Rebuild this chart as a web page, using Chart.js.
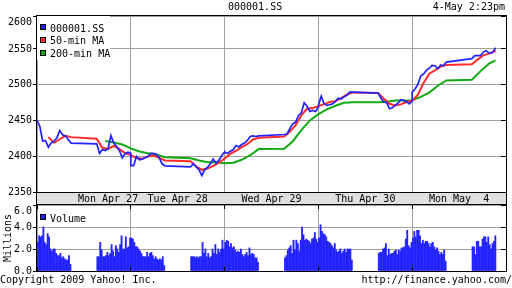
<!DOCTYPE html>
<html>
<head>
<meta charset="utf-8">
<title>000001.SS</title>
<script src="https://cdn.jsdelivr.net/npm/chart.js@4.4.1/dist/chart.umd.min.js"></script>
<style>
  html, body { margin: 0; padding: 0; background: #fff; }
  body { position: relative; width: 512px; height: 288px; overflow: hidden;
         font-family: 'DejaVu Sans Mono', monospace; font-size: 10px; color: #000; }
  canvas { position: absolute; left: 0; }
  #price-chart { top: 0; }
  #volume-chart { top: 192px; }
  .lbl { position: absolute; white-space: pre; line-height: 12px; }
  .key { position: absolute; width: 4px; height: 4px; border: 1px solid #000; }
  #legend-box { position: absolute; left: 37px; top: 16px; width: 73px; height: 44px; background: #fff; }
</style>
</head>
<body>
<canvas id="price-chart" width="512" height="206"></canvas>
<canvas id="volume-chart" width="512" height="86"></canvas>

<div class="lbl" style="left:228px; top:1px">000001.SS</div>
<div class="lbl" style="right:7px; top:1px">4-May 2:23pm</div>

<div id="legend-box"></div>
<div class="key" style="left:40px; top:24px; background:#2222ff"></div>
<div class="lbl" style="left:50px; top:23px">000001.SS</div>
<div class="key" style="left:40px; top:37px; background:#ff2b2b"></div>
<div class="lbl" style="left:50px; top:35px">50-min MA</div>
<div class="key" style="left:40px; top:50px; background:#11aa11"></div>
<div class="lbl" style="left:50px; top:48px">200-min MA</div>

<div class="key" style="left:40px; top:214px; background:#2222ff"></div>
<div class="lbl" style="left:50px; top:213px">Volume</div>

<div class="lbl" style="left:0; top:274px">Copyright 2009 Yahoo! Inc.</div>
<div class="lbl" style="right:0; top:274px">http://finance.yahoo.com/</div>

<script>
const days = ['Mon Apr 27', 'Tue Apr 28', 'Wed Apr 29', 'Thu Apr 30', 'Mon May  4'];
const priceTicks = [2350, 2400, 2450, 2500, 2550, 2600];
const volumeTicks = [0, 2, 4, 6];

// clock times inside one trading day (9:30-11:30, 13:00-15:00)
const times10 = ['09:30','09:40','09:50','10:00','10:10','10:20','10:30','10:40','10:50','11:00','11:10','11:20','11:30',
                 '13:00','13:10','13:20','13:30','13:40','13:50','14:00','14:10','14:20','14:30','14:40','14:50','15:00'];
const times20 = ['09:30','09:50','10:10','10:30','10:50','11:10','11:30',
                 '13:00','13:20','13:40','14:00','14:20','14:40','15:00'];
const times30 = ['09:30','10:00','10:30','11:00','11:30','13:00','13:30','14:00','14:30','15:00'];
const lastTime = '14:23';

// 000001.SS, one row per day (May 4 stops at 14:20)
const price = [
  [2450, 2441.6, 2421, 2422, 2412.7, 2418.8, 2421, 2425.7, 2436, 2430, 2428.5, 2423, 2418.3,
   2417.3, 2404, 2409, 2408, 2410.3, 2429, 2418.3, 2413.6, 2408, 2397.8, 2404, 2405.7, 2404],
  [2387, 2387, 2399.6, 2395, 2396, 2397.8, 2399.6, 2404, 2404, 2402.4, 2397.8, 2389.4, 2386.6,
   2385, 2389.4, 2385, 2381, 2373, 2381, 2384.7, 2389.4, 2396, 2390.3, 2394.5, 2401, 2405.7],
  [2405, 2404, 2407, 2409, 2415, 2413, 2416.4, 2418.3, 2422, 2427.6, 2428.5, 2427.6, 2428.5,
   2430.4, 2431.4, 2439, 2445.3, 2447.7, 2457, 2460.7, 2474.7, 2470, 2462.6, 2464, 2462.6, 2468.7],
  [2471, 2484, 2473.3, 2471, 2472, 2473.3, 2476.6, 2481, 2480, 2483, 2485, 2489.7, 2489.7,
   2488.3, 2481, 2475.7, 2475, 2466.3, 2467.8, 2471, 2474.3, 2479, 2478, 2476.2, 2473.3, 2477],
  [2489.7, 2494, 2500.4, 2512, 2515, 2520, 2523, 2527, 2526.5, 2522.3, 2527.5, 2526.5, 2531.6,
   2536.4, 2540.5, 2540.5, 2540.5, 2545.6, 2547.5, 2544.3, 2544.3, 2549]
];
const priceLast = 2551.7;

// 50-min moving average, every 20 minutes
const ma50 = [
  [null, null, 2426.7, 2418.8, 2423.7, 2428.5, 2426.7, 2424.4, 2411.8, 2410.3, 2414.6, 2410, 2404, 2402],
  [2401, 2397.8, 2396.4, 2399.6, 2401, 2397.8, 2394, 2393, 2386, 2381, 2382.8, 2386.6, 2391, 2396.8],
  [2396.8, 2403.3, 2407.5, 2412.7, 2416.8, 2423.4, 2425.7, 2427.6, 2434.6, 2443.5, 2457, 2466.3, 2467.3, 2470],
  [2470, 2472.8, 2475.7, 2477, 2481.2, 2486, 2489.2, 2488.3, 2480.3, 2473.3, 2471, 2472.5, 2475.7, 2477.5],
  [2477.5, 2486, 2502.3, 2515.4, 2520, 2525.2, 2527.5, 2528.4, 2535, 2541, 2543.4, 2546.6]
];
const ma50Last = 2548;

// 200-min moving average, every 30 minutes
const ma200 = [
  [null, null, null, null, null, null, 2421.3, 2419.2, 2416.4, 2411],
  [2411, 2406.6, 2404.3, 2402.4, 2398.7, 2397.2, 2394, 2391.7, 2391.7, 2390.3],
  [2390.3, 2390.8, 2395, 2401.4, 2410, 2410.3, 2421, 2436.4, 2450, 2458.8],
  [2458.8, 2465.4, 2470.5, 2474.7, 2475.6, 2475.6, 2476, 2478, 2478, 2478.4],
  [2478.4, 2483, 2489, 2498.5, 2506, 2507, 2518.6, 2529.4]
];
const ma200Last = 2534;

// volume in millions, 5-minute bars
const volMorning = [
  [2.6, 3.2, 3.1, 3.2, 4.0, 2.6, 2.4, 3.4, 3.1, 2.0, 1.8, 2.0, 2.0, 1.6, 1.4, 1.4, 1.6, 1.2, 1.3, 1.1, 1.0, 1.0, 1.4, 0.6],
  [3.0, 2.9, 2.6, 2.2, 2.2, 2.0, 1.8, 1.6, 1.3, 1.3, 1.3, 1.7, 1.3, 1.6, 1.7, 1.4, 1.1, 1.3, 1.1, 1.0, 1.1, 1.0, 1.3, 0.5],
  [2.6, 2.8, 2.7, 2.2, 2.5, 2.1, 2.2, 1.9, 1.7, 1.8, 1.7, 2.0, 1.5, 1.3, 1.5, 1.7, 1.4, 2.1, 1.5, 1.6, 1.5, 1.2, 1.2, 0.8],
  [3.0, 4.2, 3.6, 3.4, 3.3, 3.1, 2.7, 2.6, 2.5, 2.3, 2.1, 2.5, 1.9, 1.7, 1.8, 2.0, 1.6, 1.8, 2.0, 1.7, 2.0, 2.0, 2.0, 1.0],
  [3.0, 3.6, 3.1, 3.7, 3.7, 3.2, 2.5, 2.8, 2.5, 2.7, 2.7, 2.5, 2.2, 2.5, 2.6, 2.2, 1.9, 2.1, 1.8, 1.5, 1.7, 1.5, 1.9, 0.9]
];
const volAfternoon = [
  [1.3, 1.3, 2.6, 1.9, 1.3, 1.3, 1.4, 1.7, 1.4, 1.6, 2.4, 1.8, 1.3, 2.3, 2.0, 1.7, 2.4, 3.2, 2.0, 2.0, 3.1, 2.1, 2.2, 3.0],
  [1.3, 1.3, 1.3, 1.2, 1.3, 1.2, 1.3, 1.3, 2.6, 1.6, 2.0, 1.3, 1.6, 1.2, 1.3, 2.0, 1.6, 2.4, 1.5, 2.0, 1.7, 2.0, 2.8, 2.0],
  [1.2, 1.4, 1.9, 2.1, 2.3, 1.6, 2.8, 1.9, 2.8, 2.5, 1.8, 2.8, 4.0, 3.3, 2.8, 2.9, 2.8, 2.7, 2.5, 2.9, 3.0, 3.5, 2.9, 2.6],
  [1.6, 1.7, 1.7, 2.0, 2.1, 2.5, 1.4, 2.0, 1.5, 1.6, 1.6, 1.8, 1.9, 1.5, 1.9, 1.8, 2.1, 2.1, 2.2, 2.9, 3.7, 2.3, 2.1, 2.6],
  [2.2, 2.2, 1.5, 2.7, 2.7, 2.2, 2.2, 2.9, 3.1, 3.1, 2.6, 3.1, 2.4, 2.0, 2.5, 2.7, 3.2]
];

const BLUE = '#2222ff', RED = '#ff2b2b', GREEN = '#11aa11';
const FONT = { family: "'DejaVu Sans Mono', monospace", size: 10 };
const DAY = 330; // minutes from 9:30 to 15:00, lunch included

// minutes since the first open, each day drawn 9:30-15:00
function minuteOf(day, hhmm) {
  const [h, m] = hhmm.split(':').map(Number);
  return day * DAY + h * 60 + m - 570;
}

function series(rows, times, last) {
  const pts = [];
  rows.forEach((row, d) => row.forEach((v, i) => {
    if (v !== null) pts.push({ x: minuteOf(d, times[i]), y: v });
  }));
  pts.push({ x: minuteOf(rows.length - 1, lastTime), y: last });
  return pts;
}

function volumeBars() {
  const pts = [];
  for (let d = 0; d < days.length; d++) {
    volMorning[d].forEach((v, i) => pts.push({ x: minuteOf(d, '09:30') + i * 5 + 2.5, y: v }));
    volAfternoon[d].forEach((v, i) => pts.push({ x: minuteOf(d, '13:00') + i * 5 + 2.5, y: v }));
  }
  return pts;
}

const dayEdges = scale => { scale.ticks = days.concat(['']).map((d, i) => ({ value: i * DAY })); };
const snap = p => Math.round(p - 0.5) + 0.5;

// black frame round the plot, inward tick marks, grey date band
const panelFrame = {
  id: 'panelFrame',
  beforeDraw(chart, args, opts) {
    if (!opts.band) return;
    const { ctx, chartArea: a } = chart;
    ctx.save();
    ctx.fillStyle = '#e0e0e0';
    ctx.fillRect(a.left, a.bottom + 1, a.right - a.left, opts.band);
    ctx.strokeStyle = '#000';
    ctx.beginPath();
    ctx.moveTo(a.left - 0.5, a.bottom); ctx.lineTo(a.left - 0.5, a.bottom + opts.band + 1);
    ctx.moveTo(a.right + 0.5, a.bottom); ctx.lineTo(a.right + 0.5, a.bottom + opts.band + 1);
    ctx.stroke();
    ctx.restore();
  },
  afterDraw(chart, args, opts) {
    const { ctx, chartArea: a, scales } = chart;
    ctx.save();
    ctx.strokeStyle = '#000';
    ctx.lineWidth = 1;
    ctx.strokeRect(a.left - 0.5, a.top - 0.5, a.right - a.left + 1, a.bottom - a.top + 1);
    ctx.beginPath();
    scales.y.ticks.forEach(t => {
      const y = snap(scales.y.getPixelForValue(t.value));
      ctx.moveTo(a.right - 5, y); ctx.lineTo(a.right, y);
    });
    if (opts.xTicks) {
      scales.x.ticks.forEach(t => {
        const x = snap(scales.x.getPixelForValue(t.value));
        ctx.moveTo(x, a.top); ctx.lineTo(x, a.top + 4);
        ctx.moveTo(x, a.bottom); ctx.lineTo(x, a.bottom - 4);
      });
    }
    ctx.stroke();
    ctx.restore();
  }
};

const common = {
  responsive: false,
  animation: false,
  devicePixelRatio: 1,
  events: [],
  plugins: { legend: { display: false }, tooltip: { enabled: false } }
};

new Chart(document.getElementById('price-chart'), {
  type: 'line',
  data: {
    datasets: [
      { label: '000001.SS', data: series(price, times10, priceLast), borderColor: BLUE, borderWidth: 1.7 },
      { label: '50-min MA', data: series(ma50, times20, ma50Last), borderColor: RED, borderWidth: 2 },
      { label: '200-min MA', data: series(ma200, times30, ma200Last), borderColor: GREEN, borderWidth: 2 }
    ]
  },
  options: {
    ...common,
    layout: { padding: { top: 16, right: 6, left: 0, bottom: 0 } },
    elements: { point: { radius: 0 }, line: { tension: 0 } },
    plugins: { ...common.plugins, panelFrame: { band: 11 } },
    scales: {
      y: {
        min: 2350, max: 2596,
        afterFit: s => { s.width = 37; },
        afterBuildTicks: s => { s.ticks = priceTicks.map(v => ({ value: Math.min(v, s.max) })); },
        grid: { color: '#a0a0a0', tickColor: '#000', tickLength: 4 },
        border: { display: false },
        ticks: {
          font: FONT, color: '#000', padding: 1, autoSkip: false,
          callback: (v, i) => i === priceTicks.length - 1 ? ['', String(priceTicks[i])] : String(priceTicks[i])
        }
      },
      x: {
        type: 'linear', position: 'bottom', min: 0, max: DAY * days.length,
        afterBuildTicks: dayEdges,
        afterFit: s => { s.height = 0; },
        grid: { color: '#a0a0a0', drawTicks: false },
        border: { display: false },
        ticks: { display: false }
      },
      xl: {
        type: 'linear', position: 'bottom', min: 0, max: DAY * days.length,
        afterBuildTicks: s => { s.ticks = days.map((d, i) => ({ value: i * DAY + DAY / 2 + (i === 0 ? 85 : 0) })); },
        afterFit: s => { s.height = 14; },
        grid: { display: false, drawTicks: false },
        border: { display: false },
        ticks: { font: FONT, color: '#000', padding: 1, maxRotation: 0, autoSkip: false, callback: (v, i) => days[i] }
      }
    }
  },
  plugins: [panelFrame]
});

new Chart(document.getElementById('volume-chart'), {
  type: 'bar',
  data: {
    datasets: [{ label: 'Volume', data: volumeBars(), backgroundColor: BLUE, barThickness: 1.2, borderWidth: 0 }]
  },
  options: {
    ...common,
    layout: { padding: { top: 13, right: 6, left: 0, bottom: 0 } },
    plugins: { ...common.plugins, panelFrame: { xTicks: true } },
    scales: {
      y: {
        min: 0, max: 6,
        afterFit: s => { s.width = 37; },
        afterBuildTicks: s => { s.ticks = volumeTicks.map(v => ({ value: v })); },
        grid: { color: '#a0a0a0', tickColor: '#000', tickLength: 4 },
        border: { display: false },
        title: { display: true, text: 'Millions', font: FONT, color: '#000', padding: { top: 2, bottom: 0 } },
        ticks: {
          font: FONT, color: '#000', padding: 1, autoSkip: false,
          callback: (v, i) => i === volumeTicks.length - 1 ? ['', v.toFixed(1)] : v.toFixed(1)
        }
      },
      x: {
        type: 'linear', min: 0, max: DAY * days.length, offset: false,
        afterBuildTicks: dayEdges,
        afterFit: s => { s.height = 7; },
        grid: { color: '#a0a0a0', drawTicks: false, offset: false },
        border: { display: false },
        ticks: { display: false }
      }
    }
  },
  plugins: [panelFrame]
});
</script>
</body>
</html>
